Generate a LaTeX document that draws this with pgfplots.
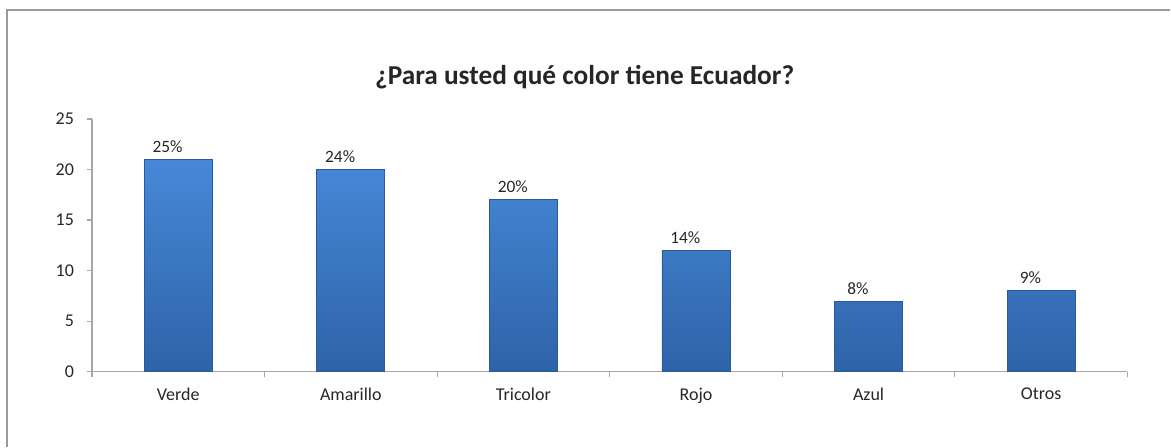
\documentclass[border=0pt]{standalone}
\usepackage{pgfplots}
\pgfplotsset{compat=1.18}
\usepackage{pgfplotstable}
\usepackage{fontspec}
\setmainfont{Carlito}
\definecolor{axgray}{HTML}{A6A6A6}
\definecolor{frame}{HTML}{9A9A9A}
\definecolor{bartop}{HTML}{4688D8}
\definecolor{barbot}{HTML}{2E63A8}
\definecolor{baredge}{HTML}{2A5A98}
\definecolor{txt}{HTML}{262626}
\pgfplotstableread{
x y lab
0 21 25\%
1 20 24\%
2 17 20\%
3 12 14\%
4 7 8\%
5 8 9\%
}\datatab
\begin{document}
\begin{tikzpicture}
\path (0pt,0pt) rectangle (878.25pt,335.25pt);
\draw[frame,line width=0.9pt] (5.25pt,0pt) -- (5.25pt,327.75pt) -- (878.25pt,327.75pt);
\node[font=\fontsize{20.5}{24}\selectfont\bfseries,text=txt] at (438.75pt,277.5pt) {¿Para usted qué color tiene Ecuador?};
\begin{axis}[
  at={(69pt,56.25pt)}, anchor=south west,
  scale only axis, width=777pt, height=189.75pt,
  xmin=-0.5, xmax=5.5, ymin=0, ymax=25,
  axis lines*=left,
  axis line style={axgray, line width=0.9pt},
  ytick={0,5,...,25},
  xtick={0,...,5},
  xticklabels={Verde,Amarillo,Tricolor,Rojo,Azul,Otros},
  minor xtick={-0.5,0.5,...,5.5},
  major x tick style={draw=none},
  tick style={axgray, line width=0.9pt},
  tick align=outside,
  major tick length=4pt,
  minor tick length=4pt,
  tick label style={font=\fontsize{13.5}{16}\selectfont, text=txt},
  /pgf/number format/assume math mode=true,
  xticklabel style={yshift=-4.5pt},
  yticklabel style={xshift=-6pt},
  ybar, bar width=51pt,
  point meta=explicit symbolic,
  nodes near coords,
  every node near coord/.append style={font=\fontsize{13}{15}\selectfont, text=txt, yshift=1.5pt, xshift=-8pt},
  clip=false,
]
\addplot[draw=baredge, top color=bartop, bottom color=barbot, line width=0.6pt] table[x=x,y=y,meta=lab] {\datatab};
\end{axis}
\end{tikzpicture}
\end{document}
